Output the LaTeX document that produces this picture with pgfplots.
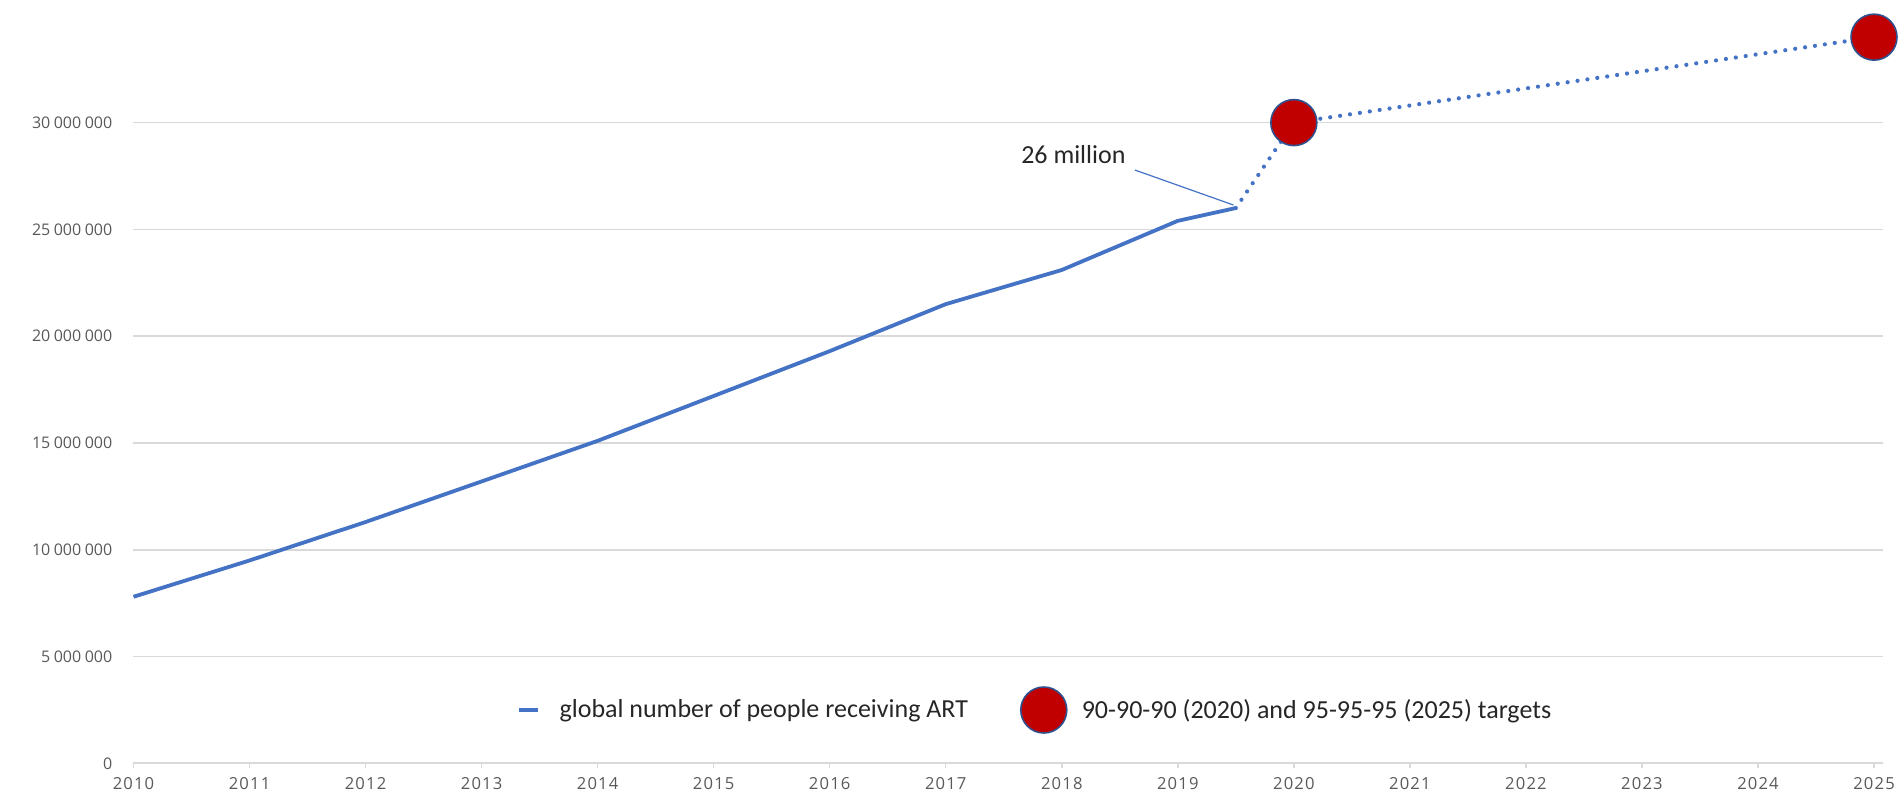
\documentclass[border=0pt]{standalone}
\usepackage{pgfplots}
\pgfplotsset{compat=1.18}
\usepackage{fontspec}
\setmainfont{Carlito}
\newfontfamily\tickfont{Open Sans}
\newfontfamily\yearfont[LetterSpace=7]{Open Sans}
\newcommand{\gs}{\kern0.22em}
\definecolor{artblue}{HTML}{4472C4}
\definecolor{tgtred}{HTML}{C00000}
\definecolor{tgtedge}{HTML}{2F528F}
\definecolor{gridgray}{HTML}{D9D9D9}
\definecolor{ticktext}{HTML}{595959}
\begin{document}
\begin{tikzpicture}
\begin{axis}[
  scale only axis,
  width=874.9pt, height=373.8pt,
  xmin=2010, xmax=2025.08,
  ymin=0, ymax=35e6,
  clip=false,
  axis y line*=left,
  axis x line*=bottom,
  y axis line style={draw=none},
  x axis line style={draw=gridgray, line width=0.9pt},
  xtick={2010,2011,...,2025},
  xticklabels={2010,2011,2012,2013,2014,2015,2016,2017,2018,2019,2020,2021,2022,2023,2024,2025},
  ytick={0,5e6,10e6,15e6,20e6,25e6,30e6},
  yticklabels={0,5\gs000\gs000,10\gs000\gs000,15\gs000\gs000,20\gs000\gs000,25\gs000\gs000,30\gs000\gs000},
  scaled y ticks=false,
  ymajorgrids,
  grid style={draw=gridgray, line width=0.75pt},
  tick align=outside,
  xtick style={draw=gridgray, line width=0.75pt},
  major tick length=2.5pt,
  ytick style={draw=none},
  yticklabel style={font=\tickfont\fontsize{8}{9.5}\selectfont, text=ticktext, anchor=east, xshift=-4.6pt},
  xticklabel style={font=\yearfont\fontsize{8.3}{9.5}\selectfont, text=ticktext, yshift=-1.2pt},
  legend columns=2,
  legend cell align=left,
  legend style={at={(0.2186,0.0714)}, anchor=west, draw=none, fill=none, inner sep=0pt,
    font=\fontsize{13}{15}\selectfont, text=black!85,
    /tikz/every even column/.append style={column sep=24pt}},
]
\addplot[color=artblue, line width=1.9pt, line join=round,
  legend image code/.code={\path[draw=none, fill=none] (0pt,0pt) -- (18.5pt,0pt); \draw[color=artblue, line width=2.2pt] (0pt,0pt) -- (9.5pt,0pt);}]
  coordinates {
  (2010,7.8e6) (2011,9.5e6) (2012,11.3e6) (2013,13.2e6) (2014,15.1e6)
  (2015,17.2e6) (2016,19.3e6) (2017,21.5e6) (2018,23.1e6) (2019,25.4e6) (2019.5,26.0e6)
};
\addlegendentry{global number of people receiving ART}
\addplot[forget plot, color=artblue, line width=2.1pt, line cap=round, dash pattern=on 0pt off 5pt]
  coordinates {(2019.5,26.0e6) (2020,30e6) (2025,34e6)};
\addplot[only marks, mark=*, mark size=11.5pt,
  mark options={fill=tgtred, draw=tgtedge, line width=0.8pt},
  legend image code/.code={\path[draw=none, fill=none] (0pt,0pt) -- (28.5pt,0pt); \path[fill=tgtred, draw=tgtedge, line width=0.8pt] (11.5pt,0pt) circle[radius=11.5pt];}]
  coordinates {(2020,30e6) (2025,34e6)};
\addlegendentry{90-90-90 (2020) and 95-95-95 (2025) targets}
\node[font=\fontsize{13}{15}\selectfont, text=black!85] at (axis cs:2018.1,28.5e6) {26 million};
\draw[artblue, line width=0.6pt] (axis cs:2018.63,27.78e6) -- (axis cs:2019.48,26.14e6);
\end{axis}
\pgfresetboundingbox
\path[use as bounding box] (-66.75pt,-19.3pt) rectangle (884.75pt,381.7pt);
\end{tikzpicture}
\end{document}
